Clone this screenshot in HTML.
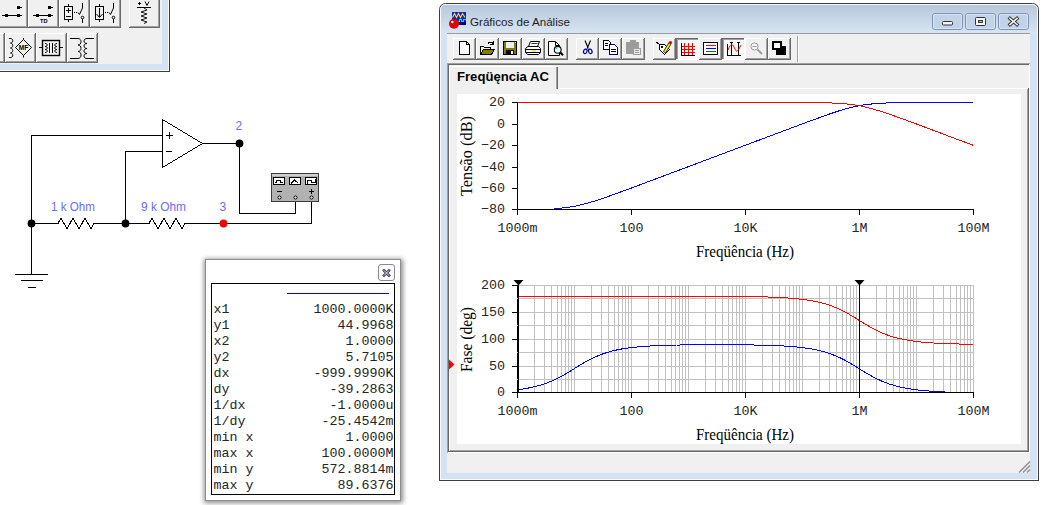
<!DOCTYPE html>
<html><head><meta charset="utf-8"><title>Gráficos de Análise</title>
<style>
html,body{margin:0;padding:0;background:#fff}
body{width:1041px;height:505px;overflow:hidden;position:relative}
svg{position:absolute;left:0;top:0;display:block}
.mono{font-family:"Liberation Mono","DejaVu Sans Mono",monospace;font-size:13.33px;fill:#262626}
.serif{font-family:"Liberation Serif","DejaVu Serif",serif;font-size:16px;fill:#000}
.sans{font-family:"Liberation Sans","DejaVu Sans",sans-serif}
.lbl{font-family:"Liberation Sans","DejaVu Sans",sans-serif;font-size:12px;fill:#6a6aff}
.crisp{shape-rendering:crispEdges}
</style></head><body>
<svg width="1041" height="505" viewBox="0 0 1041 505">
<defs>
<linearGradient id="tg" x1="0" y1="0" x2="0" y2="1"><stop offset="0" stop-color="#b7c8db"/><stop offset="0.5" stop-color="#c8d7e7"/><stop offset="1" stop-color="#d9e5f2"/></linearGradient>
<filter id="sh" x="-10%" y="-10%" width="120%" height="120%"><feGaussianBlur stdDeviation="2.4"/></filter>
</defs>
<rect x="0" y="0" width="1041" height="505" fill="#ffffff"/>

<g class="crisp">
<rect x="-5" y="-5" width="175" height="77" fill="#3c3c3c" />
<rect x="-5" y="-5" width="174" height="76" fill="#fbfcfe" />
<rect x="-5" y="-5" width="173" height="75" fill="#d5e2f1" />
<rect x="-5" y="-5" width="167" height="69" fill="#f0f0f0" />
<rect x="-3" y="-4" width="31" height="32" fill="#f0f0f0" /><rect x="-3" y="-4" width="31" height="1" fill="#ffffff"/><rect x="-3" y="-4" width="1" height="32" fill="#ffffff"/><rect x="-2" y="26" width="29" height="1" fill="#a0a0a0"/><rect x="26" y="-3" width="1" height="30" fill="#a0a0a0"/><rect x="-3" y="27" width="31" height="1" fill="#696969"/><rect x="27" y="-4" width="1" height="32" fill="#696969"/>
<rect x="28" y="-4" width="31" height="32" fill="#f0f0f0" /><rect x="28" y="-4" width="31" height="1" fill="#ffffff"/><rect x="28" y="-4" width="1" height="32" fill="#ffffff"/><rect x="29" y="26" width="29" height="1" fill="#a0a0a0"/><rect x="57" y="-3" width="1" height="30" fill="#a0a0a0"/><rect x="28" y="27" width="31" height="1" fill="#696969"/><rect x="58" y="-4" width="1" height="32" fill="#696969"/>
<rect x="59" y="-4" width="31" height="32" fill="#f0f0f0" /><rect x="59" y="-4" width="31" height="1" fill="#ffffff"/><rect x="59" y="-4" width="1" height="32" fill="#ffffff"/><rect x="60" y="26" width="29" height="1" fill="#a0a0a0"/><rect x="88" y="-3" width="1" height="30" fill="#a0a0a0"/><rect x="59" y="27" width="31" height="1" fill="#696969"/><rect x="89" y="-4" width="1" height="32" fill="#696969"/>
<rect x="90" y="-4" width="31" height="32" fill="#f0f0f0" /><rect x="90" y="-4" width="31" height="1" fill="#ffffff"/><rect x="90" y="-4" width="1" height="32" fill="#ffffff"/><rect x="91" y="26" width="29" height="1" fill="#a0a0a0"/><rect x="119" y="-3" width="1" height="30" fill="#a0a0a0"/><rect x="90" y="27" width="31" height="1" fill="#696969"/><rect x="120" y="-4" width="1" height="32" fill="#696969"/>
<rect x="129" y="-4" width="31" height="32" fill="#f0f0f0" /><rect x="129" y="-4" width="31" height="1" fill="#ffffff"/><rect x="129" y="-4" width="1" height="32" fill="#ffffff"/><rect x="130" y="26" width="29" height="1" fill="#a0a0a0"/><rect x="158" y="-3" width="1" height="30" fill="#a0a0a0"/><rect x="129" y="27" width="31" height="1" fill="#696969"/><rect x="159" y="-4" width="1" height="32" fill="#696969"/>
<rect x="-26" y="33" width="31" height="30" fill="#f0f0f0" /><rect x="-26" y="33" width="31" height="1" fill="#ffffff"/><rect x="-26" y="33" width="1" height="30" fill="#ffffff"/><rect x="-25" y="61" width="29" height="1" fill="#a0a0a0"/><rect x="3" y="34" width="1" height="28" fill="#a0a0a0"/><rect x="-26" y="62" width="31" height="1" fill="#696969"/><rect x="4" y="33" width="1" height="30" fill="#696969"/>
<rect x="5" y="33" width="31" height="30" fill="#f0f0f0" /><rect x="5" y="33" width="31" height="1" fill="#ffffff"/><rect x="5" y="33" width="1" height="30" fill="#ffffff"/><rect x="6" y="61" width="29" height="1" fill="#a0a0a0"/><rect x="34" y="34" width="1" height="28" fill="#a0a0a0"/><rect x="5" y="62" width="31" height="1" fill="#696969"/><rect x="35" y="33" width="1" height="30" fill="#696969"/>
<rect x="36" y="33" width="31" height="30" fill="#f0f0f0" /><rect x="36" y="33" width="31" height="1" fill="#ffffff"/><rect x="36" y="33" width="1" height="30" fill="#ffffff"/><rect x="37" y="61" width="29" height="1" fill="#a0a0a0"/><rect x="65" y="34" width="1" height="28" fill="#a0a0a0"/><rect x="36" y="62" width="31" height="1" fill="#696969"/><rect x="66" y="33" width="1" height="30" fill="#696969"/>
<rect x="67" y="33" width="31" height="30" fill="#f0f0f0" /><rect x="67" y="33" width="31" height="1" fill="#ffffff"/><rect x="67" y="33" width="1" height="30" fill="#ffffff"/><rect x="68" y="61" width="29" height="1" fill="#a0a0a0"/><rect x="96" y="34" width="1" height="28" fill="#a0a0a0"/><rect x="67" y="62" width="31" height="1" fill="#696969"/><rect x="97" y="33" width="1" height="30" fill="#696969"/>
</g>
<g fill="#000" class="crisp">
<rect x="2" y="15" width="20" height="1" fill="#000"/><rect x="5" y="14" width="3" height="3" fill="#000" /><rect x="17" y="14" width="3" height="3" fill="#000" /><rect x="17" y="6" width="3" height="3" fill="#000" /><rect x="19" y="7" width="3" height="1" fill="#000"/>
<rect x="33" y="15" width="20" height="1" fill="#000"/><rect x="36" y="14" width="3" height="3" fill="#000" /><rect x="48" y="14" width="3" height="3" fill="#000" /><rect x="48" y="6" width="3" height="3" fill="#000" /><rect x="50" y="7" width="3" height="1" fill="#000"/>
</g>
<g fill="none" stroke="#000" stroke-width="1" class="crisp">
<rect x="64.500" y="6.500" width="8" height="13"/><path d="M68.500 4V6M68.500 20V22M66 10.500H71M68.500 8V13M66 16.500H71"/>
<rect x="95.500" y="6.500" width="8" height="13"/><path d="M99.500 4V6M99.500 20V22M99.500 8V17"/>
<rect x="74" y="12" width="1" height="1" fill="#000" stroke="none"/><rect x="76" y="12" width="1" height="1" fill="#000" stroke="none"/><rect x="105" y="12" width="1" height="1" fill="#000" stroke="none"/><rect x="107" y="12" width="1" height="1" fill="#000" stroke="none"/>
<path d="M82.500 19V23M113.500 19V23M82.500 3V8M113.500 3V8"/>
<path d="M137 7.500H151M138 3.500H141M139.500 2V5"/>
</g>
<g fill="none" stroke="#000" stroke-width="1">
<path d="M78 12.500L79.500 14.500L82.500 8M109 12.500L110.500 14.500L113.500 8"/>
<path d="M96.500 14L99.500 17.500L102.500 14"/>
<circle cx="82.500" cy="17.500" r="1.300"/><circle cx="113.500" cy="17.500" r="1.300"/>
<path d="M145 1.500L147 5.500L149 1.500"/>
<path d="M144 8L147 10L141 12L147 14L141 16L147 18L141 20L147 22L144 23.500" stroke-width="0.900"/>
<path d="M9 38.500H10.500C13.500 38.500 13.500 43 10.500 43C13.500 43 13.500 48 10.500 48C13.500 48 13.500 53 10.500 53C13.500 53 13.500 57.500 10.500 57.500H9"/>
<path d="M23.500 39.500L31.500 47.500L23.500 55.500L15.500 47.500Z"/><path d="M23.500 38V39.500M23.500 55.500V57.500"/>
<rect x="42.500" y="40.500" width="17" height="15" stroke-width="1.400"/><path d="M39 47.500H42M60 47.500H63M49.500 43V53M52.500 43V53"/>
<path d="M45 43.500C48 43.500 48 46.500 45 46.500C48 46.500 48 49.500 45 49.500C48 49.500 48 52.500 45 52.500M57 43.500C54 43.500 54 46.500 57 46.500C54 46.500 54 49.500 57 49.500C54 49.500 54 52.500 57 52.500"/>
<path d="M70 38.500H78C82 38.500 82 45 78 45C82 45 82 51.500 78 51.500C82 51.500 82 58.500 78 58.500H70"/>
<path d="M94 38.500H87C83 38.500 83 43.500 87 43.500C83 43.500 83 48.500 87 48.500C83 48.500 83 53.500 87 53.500C83 53.500 83 58.500 87 58.500H94"/>
</g>
<text x="40" y="22.800" class="sans" font-size="5" font-weight="bold" fill="#000" textLength="7.500" lengthAdjust="spacingAndGlyphs">TD</text>
<text x="18.800" y="50" class="sans" font-size="6.500" font-weight="bold" fill="#000" textLength="9.500" lengthAdjust="spacingAndGlyphs">MF</text>
<g class="crisp" fill="none" stroke="#000" stroke-width="1">
<path d="M31.500 223V135.500H162"/>
<path d="M125.500 223V151.500H162"/>
<path d="M162.500 119.500V167.500L202.500 143.500Z"/>
<path d="M202 143.500H239.500V213.500H295.500V199"/>
<path d="M31 223.500H58L61 218L67 229L73 218L79 229L85 218L91 229L94 223.500H149L152 218L158 229L164 218L170 229L176 218L182 229L185 223.500H311.500V199"/>
<path d="M31.500 223V274M15 274.500H48M21 280.500H43M28 287.500H36"/>
<path d="M166 135.500H173M169.500 132V139M166 151.500H172"/>
</g>
<circle cx="31.500" cy="223.500" r="3.900" fill="#000"/><circle cx="125.500" cy="223.500" r="3.900" fill="#000"/><circle cx="239.500" cy="143.500" r="3.900" fill="#000"/><circle cx="223.500" cy="223.500" r="3.900" fill="#ff0000"/>
<text x="235.500" y="130" class="lbl">2</text>
<text x="219.500" y="210.500" class="lbl">3</text>
<text x="51" y="211" class="lbl" textLength="44" lengthAdjust="spacingAndGlyphs">1 k Ohm</text>
<text x="141" y="211" class="lbl" textLength="45" lengthAdjust="spacingAndGlyphs">9 k Ohm</text>
<g class="crisp">
<rect x="271" y="173" width="48" height="29" fill="#3c3c3c" />
<rect x="272" y="174" width="46" height="27" fill="#b2b2b2" />
<rect x="272" y="174" width="46" height="2" fill="#d0d0d0" />
<rect x="273" y="177" width="12" height="8" fill="#000" /><rect x="274" y="178" width="10" height="6" fill="#fff" />
<rect x="289" y="177" width="12" height="8" fill="#000" /><rect x="290" y="178" width="10" height="6" fill="#fff" />
<rect x="305" y="177" width="12" height="8" fill="#000" /><rect x="306" y="178" width="10" height="6" fill="#fff" />
<g fill="none" stroke="#000" stroke-width="1">
<path d="M275 182.500H276.500V180.500H280.500V182.500H283"/>
<path d="M291 183.500L294.500 180L298.500 183.500"/>
<path d="M307.500 184V180.500H311.500V182.500H315.500V179"/>
<path d="M277 191.500H282M309 191.500H314M311.500 189V194"/>
</g></g>
<circle cx="279.5" cy="197.500" r="1.600" fill="#e0e0e0" stroke="#000" stroke-width="0.900"/>
<circle cx="295.5" cy="197.500" r="1.600" fill="#e0e0e0" stroke="#000" stroke-width="0.900"/>
<circle cx="311.5" cy="197.500" r="1.600" fill="#e0e0e0" stroke="#000" stroke-width="0.900"/>
<rect x="204" y="259" width="199" height="244" fill="#000" opacity="0.450" filter="url(#sh)"/>
<g class="crisp">
<rect x="205" y="259" width="196" height="242" fill="#8e8e8e" />
<rect x="206" y="260" width="194" height="240" fill="#ffffff" />
<rect x="211" y="283" width="184" height="212" fill="#000" />
<rect x="212" y="284" width="182" height="210" fill="#ffffff" />
<rect x="287" y="293" width="102" height="1" fill="#0000ff"/>
</g>
<rect x="378.500" y="264.500" width="16" height="16" rx="2.500" fill="#fbfbfb" stroke="#8a8a8a"/>
<path d="M384 270.500L389 275.500M389 270.500L384 275.500" stroke="#3a3a50" stroke-width="2.600" stroke-linecap="square"/><path d="M384 270.500L389 275.500M389 270.500L384 275.500" stroke="#fff" stroke-width="0.900"/>
<text x="213.500" y="313" class="mono" xml:space="preserve">x1</text><text x="393.500" y="313" class="mono" text-anchor="end">1000.0000K</text>
<text x="213.500" y="329" class="mono" xml:space="preserve">y1</text><text x="393.500" y="329" class="mono" text-anchor="end">44.9968</text>
<text x="213.500" y="345" class="mono" xml:space="preserve">x2</text><text x="393.500" y="345" class="mono" text-anchor="end">1.0000</text>
<text x="213.500" y="361" class="mono" xml:space="preserve">y2</text><text x="393.500" y="361" class="mono" text-anchor="end">5.7105</text>
<text x="213.500" y="377" class="mono" xml:space="preserve">dx</text><text x="393.500" y="377" class="mono" text-anchor="end">-999.9990K</text>
<text x="213.500" y="393" class="mono" xml:space="preserve">dy</text><text x="393.500" y="393" class="mono" text-anchor="end">-39.2863</text>
<text x="213.500" y="409" class="mono" xml:space="preserve">1/dx</text><text x="393.500" y="409" class="mono" text-anchor="end">-1.0000u</text>
<text x="213.500" y="425" class="mono" xml:space="preserve">1/dy</text><text x="393.500" y="425" class="mono" text-anchor="end">-25.4542m</text>
<text x="213.500" y="441" class="mono" xml:space="preserve">min x</text><text x="393.500" y="441" class="mono" text-anchor="end">1.0000</text>
<text x="213.500" y="457" class="mono" xml:space="preserve">max x</text><text x="393.500" y="457" class="mono" text-anchor="end">100.0000M</text>
<text x="213.500" y="473" class="mono" xml:space="preserve">min y</text><text x="393.500" y="473" class="mono" text-anchor="end">572.8814m</text>
<text x="213.500" y="489" class="mono" xml:space="preserve">max y</text><text x="393.500" y="489" class="mono" text-anchor="end">89.6376</text>
<g>
<rect x="439.500" y="3.500" width="599" height="477" rx="6" ry="6" fill="#d5e2f1" stroke="#3d3d3d"/>
<rect x="440.500" y="4.500" width="597" height="475" rx="5" ry="5" fill="none" stroke="#f6f9fd"/>
<path d="M441 34V10Q441 5 446 5H1032Q1037 5 1037 10V34Z" fill="url(#tg)"/>
</g>
<g class="crisp">
<rect x="447" y="33" width="583" height="440" fill="#f0f0f0" />
<rect x="447" y="33" width="583" height="1" fill="#979ba1"/>
<rect x="440" y="470" width="599" height="10" fill="#f6f9fd" />
<rect x="441" y="470" width="596" height="9" fill="#d5e2f1" />
<rect x="439" y="480" width="600" height="1" fill="#3d3d3d"/>
<rect x="439" y="470" width="1" height="11" fill="#3d3d3d"/><rect x="1038" y="470" width="1" height="11" fill="#3d3d3d"/>
<rect x="447" y="452" width="583" height="21" fill="#f0f0f0" />
</g>
<g class="crisp"><rect x="452" y="12" width="14" height="13" fill="#0a22d0" /><rect x="452" y="22" width="14" height="3" fill="#000080" /><path d="M457 21.500H459V19.500H461V21.500H463V19.500H466" fill="none" stroke="#00e8e8"/></g><path d="M452.500 17.500L454.500 13.500L456.500 17.500L458.500 13.500L460.500 17.500L462.500 13.500L465 17.500" fill="none" stroke="#ffe000" stroke-width="1.100"/>
<circle cx="454" cy="23.800" r="5" fill="#e00000"/><circle cx="452.300" cy="22" r="1.300" fill="#fff"/>
<text x="470" y="25.700" class="sans" font-size="11.600px" fill="#1e1e1e" textLength="100" lengthAdjust="spacingAndGlyphs">Gráficos de Análise</text>
<rect x="932.500" y="13.500" width="30" height="16" rx="2.500" fill="#c3d3e7" stroke="#7d93b8"/><rect x="933.500" y="14.500" width="28" height="14" rx="1.500" fill="none" stroke="#dce7f4" stroke-opacity="0.8"/>
<rect x="965.500" y="13.500" width="30" height="16" rx="2.500" fill="#c3d3e7" stroke="#7d93b8"/><rect x="966.500" y="14.500" width="28" height="14" rx="1.500" fill="none" stroke="#dce7f4" stroke-opacity="0.8"/>
<rect x="998.500" y="13.500" width="30" height="16" rx="2.500" fill="#c3d3e7" stroke="#7d93b8"/><rect x="999.500" y="14.500" width="28" height="14" rx="1.500" fill="none" stroke="#dce7f4" stroke-opacity="0.8"/>
<rect x="942.500" y="21.500" width="10" height="3.500" rx="1" fill="#f4f4f4" stroke="#333"/>
<rect x="975.500" y="17.500" width="10" height="8" rx="1" fill="#f4f4f4" stroke="#333"/><rect x="978.500" y="20.500" width="4" height="2" fill="#9ab" stroke="#333" stroke-width="0.900"/>
<path d="M1010 18.500L1017 24.500M1017 18.500L1010 24.500" stroke="#333" stroke-width="3.400" stroke-linecap="square"/><path d="M1010 18.500L1017 24.500M1017 18.500L1010 24.500" stroke="#f4f4f4" stroke-width="1.600" stroke-linecap="square"/>
<g class="crisp">
<rect x="453" y="38" width="23" height="22" fill="#f0f0f0" /><rect x="453" y="38" width="23" height="1" fill="#ffffff"/><rect x="453" y="38" width="1" height="22" fill="#ffffff"/><rect x="454" y="58" width="21" height="1" fill="#a0a0a0"/><rect x="474" y="39" width="1" height="20" fill="#a0a0a0"/><rect x="453" y="59" width="23" height="1" fill="#696969"/><rect x="475" y="38" width="1" height="22" fill="#696969"/>
<rect x="476" y="38" width="23" height="22" fill="#f0f0f0" /><rect x="476" y="38" width="23" height="1" fill="#ffffff"/><rect x="476" y="38" width="1" height="22" fill="#ffffff"/><rect x="477" y="58" width="21" height="1" fill="#a0a0a0"/><rect x="497" y="39" width="1" height="20" fill="#a0a0a0"/><rect x="476" y="59" width="23" height="1" fill="#696969"/><rect x="498" y="38" width="1" height="22" fill="#696969"/>
<rect x="499" y="38" width="23" height="22" fill="#f0f0f0" /><rect x="499" y="38" width="23" height="1" fill="#ffffff"/><rect x="499" y="38" width="1" height="22" fill="#ffffff"/><rect x="500" y="58" width="21" height="1" fill="#a0a0a0"/><rect x="520" y="39" width="1" height="20" fill="#a0a0a0"/><rect x="499" y="59" width="23" height="1" fill="#696969"/><rect x="521" y="38" width="1" height="22" fill="#696969"/>
<rect x="522" y="38" width="23" height="22" fill="#f0f0f0" /><rect x="522" y="38" width="23" height="1" fill="#ffffff"/><rect x="522" y="38" width="1" height="22" fill="#ffffff"/><rect x="523" y="58" width="21" height="1" fill="#a0a0a0"/><rect x="543" y="39" width="1" height="20" fill="#a0a0a0"/><rect x="522" y="59" width="23" height="1" fill="#696969"/><rect x="544" y="38" width="1" height="22" fill="#696969"/>
<rect x="545" y="38" width="23" height="22" fill="#f0f0f0" /><rect x="545" y="38" width="23" height="1" fill="#ffffff"/><rect x="545" y="38" width="1" height="22" fill="#ffffff"/><rect x="546" y="58" width="21" height="1" fill="#a0a0a0"/><rect x="566" y="39" width="1" height="20" fill="#a0a0a0"/><rect x="545" y="59" width="23" height="1" fill="#696969"/><rect x="567" y="38" width="1" height="22" fill="#696969"/>
<rect x="576" y="38" width="23" height="22" fill="#f0f0f0" /><rect x="576" y="38" width="23" height="1" fill="#ffffff"/><rect x="576" y="38" width="1" height="22" fill="#ffffff"/><rect x="577" y="58" width="21" height="1" fill="#a0a0a0"/><rect x="597" y="39" width="1" height="20" fill="#a0a0a0"/><rect x="576" y="59" width="23" height="1" fill="#696969"/><rect x="598" y="38" width="1" height="22" fill="#696969"/>
<rect x="599" y="38" width="23" height="22" fill="#f0f0f0" /><rect x="599" y="38" width="23" height="1" fill="#ffffff"/><rect x="599" y="38" width="1" height="22" fill="#ffffff"/><rect x="600" y="58" width="21" height="1" fill="#a0a0a0"/><rect x="620" y="39" width="1" height="20" fill="#a0a0a0"/><rect x="599" y="59" width="23" height="1" fill="#696969"/><rect x="621" y="38" width="1" height="22" fill="#696969"/>
<rect x="622" y="38" width="23" height="22" fill="#f0f0f0" /><rect x="622" y="38" width="23" height="1" fill="#ffffff"/><rect x="622" y="38" width="1" height="22" fill="#ffffff"/><rect x="623" y="58" width="21" height="1" fill="#a0a0a0"/><rect x="643" y="39" width="1" height="20" fill="#a0a0a0"/><rect x="622" y="59" width="23" height="1" fill="#696969"/><rect x="644" y="38" width="1" height="22" fill="#696969"/>
<rect x="653" y="38" width="23" height="22" fill="#f0f0f0" /><rect x="653" y="38" width="23" height="1" fill="#ffffff"/><rect x="653" y="38" width="1" height="22" fill="#ffffff"/><rect x="654" y="58" width="21" height="1" fill="#a0a0a0"/><rect x="674" y="39" width="1" height="20" fill="#a0a0a0"/><rect x="653" y="59" width="23" height="1" fill="#696969"/><rect x="675" y="38" width="1" height="22" fill="#696969"/>
<rect x="676" y="38" width="23" height="22" fill="#f8f8f8" /><rect x="676" y="38" width="23" height="1" fill="#696969"/><rect x="676" y="38" width="1" height="22" fill="#696969"/><rect x="677" y="39" width="21" height="1" fill="#a0a0a0"/><rect x="677" y="39" width="1" height="20" fill="#a0a0a0"/><rect x="676" y="59" width="23" height="1" fill="#ffffff"/><rect x="698" y="38" width="1" height="22" fill="#ffffff"/>
<rect x="699" y="38" width="23" height="22" fill="#f0f0f0" /><rect x="699" y="38" width="23" height="1" fill="#ffffff"/><rect x="699" y="38" width="1" height="22" fill="#ffffff"/><rect x="700" y="58" width="21" height="1" fill="#a0a0a0"/><rect x="720" y="39" width="1" height="20" fill="#a0a0a0"/><rect x="699" y="59" width="23" height="1" fill="#696969"/><rect x="721" y="38" width="1" height="22" fill="#696969"/>
<rect x="722" y="38" width="23" height="22" fill="#f8f8f8" /><rect x="722" y="38" width="23" height="1" fill="#696969"/><rect x="722" y="38" width="1" height="22" fill="#696969"/><rect x="723" y="39" width="21" height="1" fill="#a0a0a0"/><rect x="723" y="39" width="1" height="20" fill="#a0a0a0"/><rect x="722" y="59" width="23" height="1" fill="#ffffff"/><rect x="744" y="38" width="1" height="22" fill="#ffffff"/>
<rect x="745" y="38" width="23" height="22" fill="#f0f0f0" /><rect x="745" y="38" width="23" height="1" fill="#ffffff"/><rect x="745" y="38" width="1" height="22" fill="#ffffff"/><rect x="746" y="58" width="21" height="1" fill="#a0a0a0"/><rect x="766" y="39" width="1" height="20" fill="#a0a0a0"/><rect x="745" y="59" width="23" height="1" fill="#696969"/><rect x="767" y="38" width="1" height="22" fill="#696969"/>
<rect x="768" y="38" width="23" height="22" fill="#f0f0f0" /><rect x="768" y="38" width="23" height="1" fill="#ffffff"/><rect x="768" y="38" width="1" height="22" fill="#ffffff"/><rect x="769" y="58" width="21" height="1" fill="#a0a0a0"/><rect x="789" y="39" width="1" height="20" fill="#a0a0a0"/><rect x="768" y="59" width="23" height="1" fill="#696969"/><rect x="790" y="38" width="1" height="22" fill="#696969"/>
<rect x="797" y="36" width="1" height="26" fill="#a0a0a0"/><rect x="798" y="36" width="1" height="26" fill="#ffffff"/>
<rect x="447" y="63" width="583" height="1" fill="#a0a0a0"/>
<rect x="448" y="64" width="582" height="1" fill="#696969"/>
<rect x="447" y="63" width="1" height="390" fill="#a0a0a0"/>
<rect x="448" y="64" width="1" height="388" fill="#696969"/>
<rect x="448" y="452" width="582" height="1" fill="#ffffff"/><rect x="1029" y="64" width="1" height="389" fill="#ffffff"/>
<rect x="448" y="451" width="581" height="1" fill="#696969"/><rect x="449" y="450" width="579" height="1" fill="#a0a0a0"/>
<rect x="1028" y="88" width="1" height="364" fill="#696969"/><rect x="1027" y="89" width="1" height="362" fill="#a0a0a0"/>
<rect x="449" y="66" width="108" height="1" fill="#ffffff"/><rect x="449" y="66" width="1" height="385" fill="#ffffff"/>
<rect x="557" y="67" width="1" height="22" fill="#696969"/><rect x="556" y="67" width="1" height="22" fill="#a0a0a0"/>
<rect x="558" y="88" width="469" height="1" fill="#ffffff"/>
<rect x="457" y="94" width="564" height="350" fill="#ffffff" />
</g>
<text x="457" y="81" class="sans" font-size="13px" font-weight="bold" fill="#000" textLength="92" lengthAdjust="spacingAndGlyphs">Freqüęncia AC</text>
<g transform="translate(0,-1)">
<g class="crisp" fill="none" stroke="#000">
<path d="M459.500 42.500H466.500L469.500 45.500V55.500H459.500Z" fill="#fff"/><path d="M466.500 42.500V45.500H469.500"/>
<path d="M480.500 55.500V47.500H483.500L484.500 48.500H490.500V50.500" fill="#ffff80"/><path d="M480.500 55.500L483.500 50.500H494.500L491.500 55.500Z" fill="#808000"/><path d="M488 44.500C489 42.500 492 42.500 493 45M493.500 42V45.500H490"/>
<rect x="503.500" y="42.500" width="13" height="13" fill="#808000"/><rect x="506" y="43" width="8" height="6" fill="#f0f0f0" stroke="none"/><rect x="515" y="43" width="1" height="1" fill="#fff" stroke="none"/><rect x="506" y="51" width="8" height="5" fill="#000" stroke="none"/><rect x="511" y="52" width="2" height="3" fill="#fff" stroke="none"/>
</g><g fill="none" stroke="#000" stroke-width="1">
<path d="M530.500 42.500H539.500L537.500 47.500H528.500Z" fill="#fff"/><path d="M531.500 44.500H537.500" stroke-width="0.800"/>
<path d="M528 47.500H538.500L540.500 49.500V53.500L538.500 55.500H528L525.500 53.500V49.500Z" fill="#fff"/>
<path d="M526 50.500H540M526 53.500H540" stroke-width="1"/>
<rect x="532" y="51.400" width="4" height="1.300" fill="#f0e000" stroke="none"/>
<path d="M548.500 42.500H555.500L559.500 46.500V56.500H548.500Z" fill="#fff"/><path d="M555.500 42.500V46.500H559.500"/>
<circle cx="557.700" cy="50.800" r="3.400" fill="#f4ffff" stroke="#000" stroke-width="1.100"/><path d="M555.800 50.500A2 2 0 0 1 557.500 48.700" stroke="#00d8e8" stroke-width="1.200"/><path d="M560.300 53.500L563 56.300" stroke-width="2"/>
</g><g class="crisp" fill="none" stroke="#000">
</g><g fill="none" stroke="#000" stroke-width="1.100">
<path d="M585 41.500L588.300 49.500M590.500 41.500L587.200 49.500"/><ellipse cx="585.300" cy="52.300" rx="1.700" ry="2.300" stroke="#000090" stroke-width="1.200" transform="rotate(20 585.300 52.300)"/><ellipse cx="590.300" cy="52.300" rx="1.700" ry="2.300" stroke="#000090" stroke-width="1.200" transform="rotate(-20 590.300 52.300)"/>
</g><g class="crisp" fill="none" stroke="#000">
<path d="M603.500 41.500H608.500L610.500 43.500V50.500H603.500Z" fill="#fff"/><path d="M609.500 45.500H614.500L617.500 48.500V55.500H609.500Z" fill="#fff" stroke="#000080"/><path d="M605 44.500H608M605 46.500H608M611 50.500H616M611 52.500H616" />
<rect x="626.500" y="43.500" width="12" height="11" fill="#9c9c9c" stroke="#9c9c9c"/><rect x="630" y="41" width="6" height="3" fill="#9c9c9c" stroke="none"/><rect x="633.500" y="49.500" width="7" height="6" fill="#e8e8e8" stroke="#9c9c9c"/><path d="M635 51.500H639M635 53.500H639" stroke="#9c9c9c"/>
<path d="M656 43L659.500 45.500H664.500L669.500 50.500L664.500 55.500L659.500 50.500V45.500" fill="#fff"/><rect x="661" y="47" width="2" height="2" fill="#000" stroke="none"/>
</g>
<path d="M663.500 52.500L669 43.500L671 45L665.500 54Z" fill="#ffee00" stroke="#000" stroke-width="0.800"/><circle cx="670.500" cy="43.500" r="1.600" fill="#e00000"/>
<g class="crisp" fill="none" stroke="#000">
<g transform="translate(0,1)"><path d="M684.500 43V55M688.500 43V55M692.500 43V55M682 46.500H695M682 49.500H695M682 52.500H695" stroke="#ff0000"/><path d="M681.500 43V55.500H695"/></g>
<rect x="703.500" y="43.500" width="14" height="12" fill="#fff" stroke-width="1"/><path d="M706 46.500H716" stroke="#ff0000"/><path d="M706 49.500H716" stroke="#0000ff"/><path d="M706 52.500H716" stroke="#008000"/>
<path d="M727.500 45V56.500H741M731.500 44V56M738.500 44V56M730 43.500H733M737 43.500H740"/>
</g>
<path d="M728 51C731 43 733 45 735 50C737 55 739 50 741 46" fill="none" stroke="#ff0000" stroke-width="1"/>
<circle cx="754.500" cy="47.500" r="3.600" fill="#f6f6f6" stroke="#9c9c9c"/><path d="M752.500 47.500H756.500" stroke="#9c9c9c"/><path d="M757.500 50.500L762 55" stroke="#9c9c9c" stroke-width="2"/>
<g class="crisp"><rect x="776" y="47" width="10" height="9" fill="#000" /><rect x="772" y="42" width="10" height="9" fill="#000" /><rect x="774" y="44" width="6" height="5" fill="#fff" /></g>
</g>
<g stroke="#8c8c8c" stroke-width="1.400" fill="none"><path d="M1019 472.500L1030 461.500M1023 472.500L1030 465.500M1027 472.500L1030 469.500"/></g>
<g class="crisp">
<rect x="534" y="285" width="1" height="108" fill="#c0c0c0"/>
<rect x="544" y="285" width="1" height="108" fill="#c0c0c0"/>
<rect x="551" y="285" width="1" height="108" fill="#c0c0c0"/>
<rect x="557" y="285" width="1" height="108" fill="#c0c0c0"/>
<rect x="561" y="285" width="1" height="108" fill="#c0c0c0"/>
<rect x="565" y="285" width="1" height="108" fill="#c0c0c0"/>
<rect x="568" y="285" width="1" height="108" fill="#c0c0c0"/>
<rect x="571" y="285" width="1" height="108" fill="#c0c0c0"/>
<rect x="574" y="285" width="1" height="108" fill="#c0c0c0"/>
<rect x="591" y="285" width="1" height="108" fill="#c0c0c0"/>
<rect x="601" y="285" width="1" height="108" fill="#c0c0c0"/>
<rect x="608" y="285" width="1" height="108" fill="#c0c0c0"/>
<rect x="614" y="285" width="1" height="108" fill="#c0c0c0"/>
<rect x="618" y="285" width="1" height="108" fill="#c0c0c0"/>
<rect x="622" y="285" width="1" height="108" fill="#c0c0c0"/>
<rect x="625" y="285" width="1" height="108" fill="#c0c0c0"/>
<rect x="628" y="285" width="1" height="108" fill="#c0c0c0"/>
<rect x="631" y="285" width="1" height="108" fill="#c0c0c0"/>
<rect x="648" y="285" width="1" height="108" fill="#c0c0c0"/>
<rect x="658" y="285" width="1" height="108" fill="#c0c0c0"/>
<rect x="665" y="285" width="1" height="108" fill="#c0c0c0"/>
<rect x="671" y="285" width="1" height="108" fill="#c0c0c0"/>
<rect x="675" y="285" width="1" height="108" fill="#c0c0c0"/>
<rect x="679" y="285" width="1" height="108" fill="#c0c0c0"/>
<rect x="682" y="285" width="1" height="108" fill="#c0c0c0"/>
<rect x="685" y="285" width="1" height="108" fill="#c0c0c0"/>
<rect x="688" y="285" width="1" height="108" fill="#c0c0c0"/>
<rect x="705" y="285" width="1" height="108" fill="#c0c0c0"/>
<rect x="715" y="285" width="1" height="108" fill="#c0c0c0"/>
<rect x="722" y="285" width="1" height="108" fill="#c0c0c0"/>
<rect x="728" y="285" width="1" height="108" fill="#c0c0c0"/>
<rect x="732" y="285" width="1" height="108" fill="#c0c0c0"/>
<rect x="736" y="285" width="1" height="108" fill="#c0c0c0"/>
<rect x="739" y="285" width="1" height="108" fill="#c0c0c0"/>
<rect x="742" y="285" width="1" height="108" fill="#c0c0c0"/>
<rect x="745" y="285" width="1" height="108" fill="#c0c0c0"/>
<rect x="762" y="285" width="1" height="108" fill="#c0c0c0"/>
<rect x="772" y="285" width="1" height="108" fill="#c0c0c0"/>
<rect x="779" y="285" width="1" height="108" fill="#c0c0c0"/>
<rect x="785" y="285" width="1" height="108" fill="#c0c0c0"/>
<rect x="789" y="285" width="1" height="108" fill="#c0c0c0"/>
<rect x="793" y="285" width="1" height="108" fill="#c0c0c0"/>
<rect x="796" y="285" width="1" height="108" fill="#c0c0c0"/>
<rect x="799" y="285" width="1" height="108" fill="#c0c0c0"/>
<rect x="802" y="285" width="1" height="108" fill="#c0c0c0"/>
<rect x="819" y="285" width="1" height="108" fill="#c0c0c0"/>
<rect x="829" y="285" width="1" height="108" fill="#c0c0c0"/>
<rect x="836" y="285" width="1" height="108" fill="#c0c0c0"/>
<rect x="842" y="285" width="1" height="108" fill="#c0c0c0"/>
<rect x="846" y="285" width="1" height="108" fill="#c0c0c0"/>
<rect x="850" y="285" width="1" height="108" fill="#c0c0c0"/>
<rect x="853" y="285" width="1" height="108" fill="#c0c0c0"/>
<rect x="856" y="285" width="1" height="108" fill="#c0c0c0"/>
<rect x="859" y="285" width="1" height="108" fill="#c0c0c0"/>
<rect x="876" y="285" width="1" height="108" fill="#c0c0c0"/>
<rect x="886" y="285" width="1" height="108" fill="#c0c0c0"/>
<rect x="893" y="285" width="1" height="108" fill="#c0c0c0"/>
<rect x="899" y="285" width="1" height="108" fill="#c0c0c0"/>
<rect x="903" y="285" width="1" height="108" fill="#c0c0c0"/>
<rect x="907" y="285" width="1" height="108" fill="#c0c0c0"/>
<rect x="910" y="285" width="1" height="108" fill="#c0c0c0"/>
<rect x="913" y="285" width="1" height="108" fill="#c0c0c0"/>
<rect x="916" y="285" width="1" height="108" fill="#c0c0c0"/>
<rect x="933" y="285" width="1" height="108" fill="#c0c0c0"/>
<rect x="943" y="285" width="1" height="108" fill="#c0c0c0"/>
<rect x="950" y="285" width="1" height="108" fill="#c0c0c0"/>
<rect x="956" y="285" width="1" height="108" fill="#c0c0c0"/>
<rect x="960" y="285" width="1" height="108" fill="#c0c0c0"/>
<rect x="964" y="285" width="1" height="108" fill="#c0c0c0"/>
<rect x="967" y="285" width="1" height="108" fill="#c0c0c0"/>
<rect x="970" y="285" width="1" height="108" fill="#c0c0c0"/>
<rect x="973" y="285" width="1" height="108" fill="#c0c0c0"/>
<rect x="517" y="285" width="457" height="1" fill="#c0c0c0"/>
<rect x="517" y="298" width="457" height="1" fill="#c0c0c0"/>
<rect x="517" y="312" width="457" height="1" fill="#c0c0c0"/>
<rect x="517" y="325" width="457" height="1" fill="#c0c0c0"/>
<rect x="517" y="339" width="457" height="1" fill="#c0c0c0"/>
<rect x="517" y="352" width="457" height="1" fill="#c0c0c0"/>
<rect x="517" y="366" width="457" height="1" fill="#c0c0c0"/>
<rect x="517" y="379" width="457" height="1" fill="#c0c0c0"/>
</g>
<polyline points="554.2,208.7 557.1,208.5 560.0,208.2 562.8,207.9 565.7,207.6 568.5,207.2 571.4,206.8 574.2,206.3 577.1,205.7 579.9,205.1 582.8,204.4 585.6,203.7 588.5,202.9 591.3,202.0 594.2,201.2 597.0,200.3 599.9,199.3 602.7,198.4 605.6,197.4 608.4,196.4 611.2,195.4 614.1,194.3 617.0,193.3 619.8,192.3 622.7,191.2 625.5,190.2 628.4,189.1 631.2,188.1 634.1,187.0 636.9,185.9 639.8,184.9 642.6,183.8 645.5,182.7 648.3,181.7 651.2,180.6 654.0,179.5 656.9,178.5 659.7,177.4 662.6,176.3 665.4,175.3 668.2,174.2 671.1,173.1 674.0,172.0 676.8,171.0 679.7,169.9 682.5,168.8 685.4,167.8 688.2,166.7 691.1,165.6 693.9,164.6 696.8,163.5 699.6,162.4 702.5,161.3 705.3,160.3 708.2,159.2 711.0,158.1 713.9,157.1 716.7,156.0 719.6,154.9 722.4,153.9 725.2,152.8 728.1,151.7 731.0,150.7 733.8,149.6 736.7,148.5 739.5,147.4 742.4,146.4 745.2,145.3 748.1,144.2 750.9,143.2 753.8,142.1 756.6,141.0 759.5,140.0 762.3,138.9 765.2,137.8 768.0,136.7 770.9,135.7 773.7,134.6 776.5,133.5 779.4,132.5 782.2,131.4 785.1,130.3 788.0,129.3 790.8,128.2 793.7,127.1 796.5,126.1 799.4,125.0 802.2,123.9 805.0,122.9 807.9,121.8 810.8,120.8 813.6,119.7 816.5,118.7 819.3,117.7 822.2,116.6 825.0,115.6 827.9,114.6 830.7,113.6 833.5,112.7 836.4,111.7 839.2,110.8 842.1,110.0 845.0,109.1 847.8,108.3 850.7,107.6 853.5,106.9 856.4,106.3 859.2,105.7 862.0,105.2 864.9,104.8 867.8,104.4 870.6,104.1 873.5,103.8 876.3,103.5 879.2,103.3 882.0,103.2 884.9,103.1 887.7,102.9 890.5,102.9 893.4,102.8 896.2,102.7 899.1,102.7 902.0,102.6 904.8,102.6 907.7,102.6 910.5,102.6 913.4,102.6 916.2,102.5 919.0,102.5 921.9,102.5 924.8,102.5 927.6,102.5 930.5,102.5 933.3,102.5 936.2,102.5 939.0,102.5 941.9,102.5 944.7,102.5 947.5,102.5 950.4,102.5 953.2,102.5 956.1,102.5 959.0,102.5 961.8,102.5 964.7,102.5 967.5,102.5 970.4,102.5 973.2,102.5" fill="none" stroke="#0000ff" stroke-width="1" class="crisp"/>
<polyline points="517.2,102.5 520.1,102.5 522.9,102.5 525.8,102.5 528.6,102.5 531.5,102.5 534.3,102.5 537.2,102.5 540.0,102.5 542.9,102.5 545.7,102.5 548.6,102.5 551.4,102.5 554.2,102.5 557.1,102.5 560.0,102.5 562.8,102.5 565.7,102.5 568.5,102.5 571.4,102.5 574.2,102.5 577.1,102.5 579.9,102.5 582.8,102.5 585.6,102.5 588.5,102.5 591.3,102.5 594.2,102.5 597.0,102.5 599.9,102.5 602.7,102.5 605.6,102.5 608.4,102.5 611.2,102.5 614.1,102.5 617.0,102.5 619.8,102.5 622.7,102.5 625.5,102.5 628.4,102.5 631.2,102.5 634.1,102.5 636.9,102.5 639.8,102.5 642.6,102.5 645.5,102.5 648.3,102.5 651.2,102.5 654.0,102.5 656.9,102.5 659.7,102.5 662.6,102.5 665.4,102.5 668.2,102.5 671.1,102.5 674.0,102.5 676.8,102.5 679.7,102.5 682.5,102.5 685.4,102.5 688.2,102.5 691.1,102.5 693.9,102.5 696.8,102.5 699.6,102.5 702.5,102.5 705.3,102.5 708.2,102.5 711.0,102.5 713.9,102.5 716.7,102.5 719.6,102.5 722.4,102.5 725.2,102.5 728.1,102.5 731.0,102.5 733.8,102.5 736.7,102.5 739.5,102.5 742.4,102.5 745.2,102.5 748.1,102.5 750.9,102.5 753.8,102.5 756.6,102.5 759.5,102.5 762.3,102.5 765.2,102.5 768.0,102.5 770.9,102.5 773.7,102.5 776.5,102.5 779.4,102.5 782.2,102.5 785.1,102.5 788.0,102.5 790.8,102.5 793.7,102.5 796.5,102.5 799.4,102.5 802.2,102.5 805.0,102.6 807.9,102.6 810.8,102.6 813.6,102.6 816.5,102.6 819.3,102.7 822.2,102.7 825.0,102.8 827.9,102.9 830.7,102.9 833.5,103.1 836.4,103.2 839.2,103.3 842.1,103.5 845.0,103.8 847.8,104.1 850.7,104.4 853.5,104.8 856.4,105.2 859.2,105.7 862.0,106.3 864.9,106.9 867.8,107.6 870.6,108.3 873.5,109.1 876.3,110.0 879.2,110.8 882.0,111.7 884.9,112.7 887.7,113.6 890.5,114.6 893.4,115.6 896.2,116.6 899.1,117.7 902.0,118.7 904.8,119.7 907.7,120.8 910.5,121.8 913.4,122.9 916.2,123.9 919.0,125.0 921.9,126.1 924.8,127.1 927.6,128.2 930.5,129.3 933.3,130.3 936.2,131.4 939.0,132.5 941.9,133.5 944.7,134.6 947.5,135.7 950.4,136.7 953.2,137.8 956.1,138.9 959.0,140.0 961.8,141.0 964.7,142.1 967.5,143.2 970.4,144.2 973.2,145.3" fill="none" stroke="#ff0000" stroke-width="1" class="crisp"/>
<polyline points="517.2,296.2 520.1,296.2 522.9,296.2 525.8,296.2 528.6,296.2 531.5,296.2 534.3,296.2 537.2,296.2 540.0,296.2 542.9,296.2 545.7,296.2 548.6,296.2 551.4,296.2 554.2,296.2 557.1,296.2 560.0,296.2 562.8,296.2 565.7,296.2 568.5,296.2 571.4,296.2 574.2,296.2 577.1,296.2 579.9,296.2 582.8,296.2 585.6,296.2 588.5,296.2 591.3,296.2 594.2,296.2 597.0,296.2 599.9,296.2 602.7,296.2 605.6,296.2 608.4,296.2 611.2,296.2 614.1,296.2 617.0,296.2 619.8,296.2 622.7,296.2 625.5,296.2 628.4,296.2 631.2,296.2 634.1,296.2 636.9,296.2 639.8,296.2 642.6,296.2 645.5,296.2 648.3,296.2 651.2,296.2 654.0,296.2 656.9,296.2 659.7,296.2 662.6,296.2 665.4,296.2 668.2,296.2 671.1,296.2 674.0,296.2 676.8,296.2 679.7,296.3 682.5,296.3 685.4,296.3 688.2,296.3 691.1,296.3 693.9,296.3 696.8,296.3 699.6,296.3 702.5,296.3 705.3,296.3 708.2,296.3 711.0,296.3 713.9,296.3 716.7,296.3 719.6,296.3 722.4,296.4 725.2,296.4 728.1,296.4 731.0,296.4 733.8,296.4 736.7,296.4 739.5,296.5 742.4,296.5 745.2,296.5 748.1,296.6 750.9,296.6 753.8,296.7 756.6,296.7 759.5,296.8 762.3,296.8 765.2,296.9 768.0,297.0 770.9,297.1 773.7,297.2 776.5,297.3 779.4,297.5 782.2,297.6 785.1,297.8 788.0,298.0 790.8,298.2 793.7,298.4 796.5,298.7 799.4,299.0 802.2,299.3 805.0,299.7 807.9,300.1 810.8,300.5 813.6,301.1 816.5,301.6 819.3,302.3 822.2,303.0 825.0,303.8 827.9,304.7 830.7,305.6 833.5,306.7 836.4,307.9 839.2,309.1 842.1,310.5 845.0,312.0 847.8,313.5 850.7,315.2 853.5,316.9 856.4,318.6 859.2,320.4 862.0,322.1 864.9,323.9 867.8,325.6 870.6,327.2 873.5,328.8 876.3,330.2 879.2,331.6 882.0,332.9 884.9,334.0 887.7,335.1 890.5,336.1 893.4,337.0 896.2,337.7 899.1,338.5 902.0,339.1 904.8,339.7 907.7,340.2 910.5,340.7 913.4,341.1 916.2,341.5 919.0,341.8 921.9,342.1 924.8,342.3 927.6,342.6 930.5,342.8 933.3,343.0 936.2,343.1 939.0,343.3 941.9,343.4 944.7,343.5 947.5,343.6 950.4,343.7 953.2,343.8 956.1,343.9 959.0,344.0 961.8,344.0 964.7,344.1 967.5,344.1 970.4,344.2 973.2,344.2" fill="none" stroke="#ff0000" stroke-width="1" class="crisp"/>
<polyline points="517.2,389.7 520.1,389.4 522.9,389.0 525.8,388.5 528.6,388.0 531.5,387.4 534.3,386.7 537.2,386.0 540.0,385.2 542.9,384.4 545.7,383.4 548.6,382.3 551.4,381.2 554.2,379.9 557.1,378.5 560.0,377.1 562.8,375.5 565.7,373.9 568.5,372.2 571.4,370.4 574.2,368.7 577.1,366.9 579.9,365.1 582.8,363.5 585.6,361.8 588.5,360.3 591.3,358.8 594.2,357.4 597.0,356.2 599.9,355.0 602.7,353.9 605.6,353.0 608.4,352.1 611.2,351.3 614.1,350.6 617.0,349.9 619.8,349.3 622.7,348.8 625.5,348.4 628.4,348.0 631.2,347.6 634.1,347.3 636.9,347.0 639.8,346.7 642.6,346.5 645.5,346.2 648.3,346.1 651.2,345.9 654.0,345.7 656.9,345.6 659.7,345.5 662.6,345.4 665.4,345.3 668.2,345.2 671.1,345.1 674.0,345.1 676.8,345.0 679.7,345.0 682.5,344.9 685.4,344.9 688.2,344.9 691.1,344.8 693.9,344.8 696.8,344.8 699.6,344.8 702.5,344.7 705.3,344.7 708.2,344.7 711.0,344.7 713.9,344.7 716.7,344.7 719.6,344.7 722.4,344.7 725.2,344.7 728.1,344.7 731.0,344.7 733.8,344.8 736.7,344.8 739.5,344.8 742.4,344.8 745.2,344.9 748.1,344.9 750.9,344.9 753.8,345.0 756.6,345.0 759.5,345.1 762.3,345.1 765.2,345.2 768.0,345.3 770.9,345.4 773.7,345.5 776.5,345.6 779.4,345.7 782.2,345.9 785.1,346.1 788.0,346.2 790.8,346.5 793.7,346.7 796.5,347.0 799.4,347.3 802.2,347.6 805.0,348.0 807.9,348.4 810.8,348.8 813.6,349.3 816.5,349.9 819.3,350.6 822.2,351.3 825.0,352.1 827.9,353.0 830.7,353.9 833.5,355.0 836.4,356.2 839.2,357.4 842.1,358.8 845.0,360.3 847.8,361.8 850.7,363.5 853.5,365.1 856.4,366.9 859.2,368.7 862.0,370.4 864.9,372.2 867.8,373.9 870.6,375.5 873.5,377.1 876.3,378.5 879.2,379.9 882.0,381.2 884.9,382.3 887.7,383.4 890.5,384.4 893.4,385.2 896.2,386.0 899.1,386.7 902.0,387.4 904.8,388.0 907.7,388.5 910.5,389.0 913.4,389.4 916.2,389.7 919.0,390.1 921.9,390.4 924.8,390.6 927.6,390.9 930.5,391.1 933.3,391.3 936.2,391.4 939.0,391.6 941.9,391.7 944.7,391.8" fill="none" stroke="#0000ff" stroke-width="1" class="crisp"/>
<g class="crisp">
<rect x="517" y="102" width="1" height="108" fill="#000"/><rect x="517" y="209" width="457" height="1" fill="#000"/>
<rect x="512" y="102" width="6" height="1" fill="#000"/>
<rect x="512" y="124" width="6" height="1" fill="#000"/>
<rect x="512" y="145" width="6" height="1" fill="#000"/>
<rect x="512" y="167" width="6" height="1" fill="#000"/>
<rect x="512" y="188" width="6" height="1" fill="#000"/>
<rect x="512" y="209" width="6" height="1" fill="#000"/>
<rect x="517" y="209" width="1" height="6" fill="#000"/>
<rect x="517" y="392" width="1" height="6" fill="#000"/>
<rect x="631" y="209" width="1" height="6" fill="#000"/>
<rect x="631" y="392" width="1" height="6" fill="#000"/>
<rect x="745" y="209" width="1" height="6" fill="#000"/>
<rect x="745" y="392" width="1" height="6" fill="#000"/>
<rect x="859" y="209" width="1" height="6" fill="#000"/>
<rect x="859" y="392" width="1" height="6" fill="#000"/>
<rect x="973" y="209" width="1" height="6" fill="#000"/>
<rect x="973" y="392" width="1" height="6" fill="#000"/>
<rect x="517" y="285" width="2" height="108" fill="#000"/><rect x="517" y="392" width="457" height="1" fill="#000"/>
<rect x="512" y="285" width="6" height="1" fill="#000"/>
<rect x="512" y="312" width="6" height="1" fill="#000"/>
<rect x="512" y="339" width="6" height="1" fill="#000"/>
<rect x="512" y="366" width="6" height="1" fill="#000"/>
<rect x="512" y="392" width="6" height="1" fill="#000"/>
<rect x="517" y="298" width="1" height="1" fill="#b0b0b0" />
<rect x="517" y="325" width="1" height="1" fill="#b0b0b0" />
<rect x="517" y="352" width="1" height="1" fill="#b0b0b0" />
<rect x="517" y="379" width="1" height="1" fill="#b0b0b0" />
<rect x="859" y="285" width="1" height="108" fill="#000"/>
</g>
<path d="M513.500 280H523.500L518.500 285.500Z" fill="#000"/><path d="M854.500 280H864.500L859.500 285.500Z" fill="#000"/>
<path d="M449 359.500L454.500 364.500L449 369.500Z" fill="#ff0000"/>
<text x="505" y="106.3" class="mono" text-anchor="end">20</text>
<text x="505" y="128.3" class="mono" text-anchor="end">0</text>
<text x="505" y="149.3" class="mono" text-anchor="end">−20</text>
<text x="505" y="171.3" class="mono" text-anchor="end">−40</text>
<text x="505" y="192.3" class="mono" text-anchor="end">−60</text>
<text x="505" y="213.3" class="mono" text-anchor="end">−80</text>
<text x="505" y="289.2" class="mono" text-anchor="end">200</text>
<text x="505" y="316.2" class="mono" text-anchor="end">150</text>
<text x="505" y="343.2" class="mono" text-anchor="end">100</text>
<text x="505" y="370.2" class="mono" text-anchor="end">50</text>
<text x="505" y="396.2" class="mono" text-anchor="end">0</text>
<text x="517.5" y="232" class="mono" text-anchor="middle">1000m</text>
<text x="517.5" y="414.500" class="mono" text-anchor="middle">1000m</text>
<text x="631.5" y="232" class="mono" text-anchor="middle">100</text>
<text x="631.5" y="414.500" class="mono" text-anchor="middle">100</text>
<text x="745.5" y="232" class="mono" text-anchor="middle">10K</text>
<text x="745.5" y="414.500" class="mono" text-anchor="middle">10K</text>
<text x="859.5" y="232" class="mono" text-anchor="middle">1M</text>
<text x="859.5" y="414.500" class="mono" text-anchor="middle">1M</text>
<text x="973.5" y="232" class="mono" text-anchor="middle">100M</text>
<text x="973.5" y="414.500" class="mono" text-anchor="middle">100M</text>
<text x="745" y="257" class="serif" text-anchor="middle" textLength="98" lengthAdjust="spacingAndGlyphs">Freqüência (Hz)</text>
<text x="745" y="439.600" class="serif" text-anchor="middle" textLength="98" lengthAdjust="spacingAndGlyphs">Freqüência (Hz)</text>
<text transform="translate(472,156) rotate(-90)" class="serif" style="font-size:16.5px" text-anchor="middle" textLength="80" lengthAdjust="spacingAndGlyphs">Tensão (dB)</text>
<text transform="translate(472,339.500) rotate(-90)" class="serif" style="font-size:16.5px" text-anchor="middle" textLength="65" lengthAdjust="spacingAndGlyphs">Fase (deg)</text>
</svg></body></html>
